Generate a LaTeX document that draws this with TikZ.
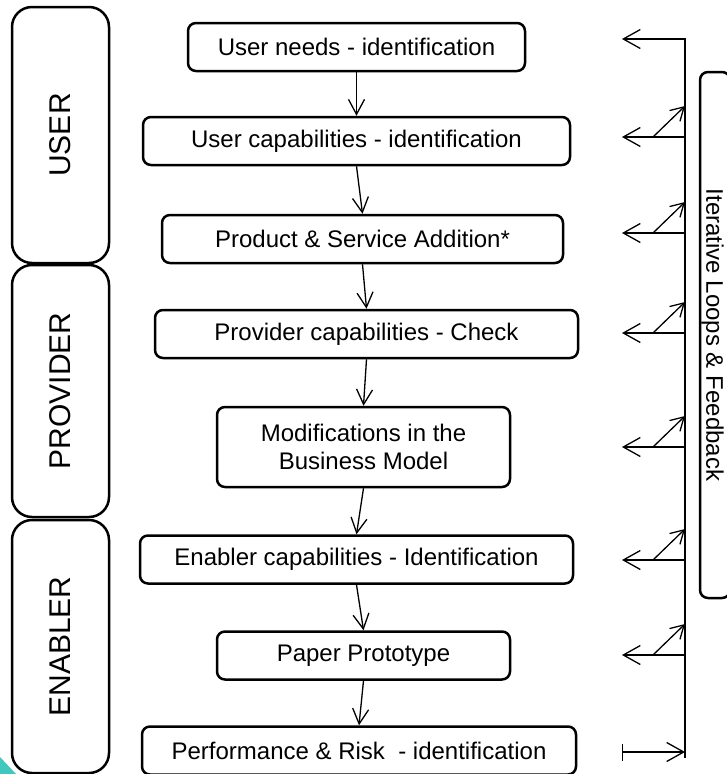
\documentclass[tikz,border=0pt]{standalone}
\usepackage{fontspec}
\setmainfont{Liberation Sans}
\usetikzlibrary{arrows.meta,positioning}
\definecolor{cornerteal}{RGB}{64,200,190}

\begin{document}
\begin{tikzpicture}[x=1pt, y=-1pt,
  stepbox/.style={draw, line width=2.5pt, rounded corners=8pt, inner sep=0pt, align=center, minimum height=48pt, font=\fontsize{24}{28}\selectfont},
  rolebox/.style={draw, line width=2.5pt, rounded corners=20pt, inner sep=0pt, rotate=90, minimum height=97pt, font=\fontsize{30}{36}\selectfont},
  flow/.style={line width=1.3pt, -{Straight Barb[length=15pt,width=16pt]}},
  fb/.style={line width=1.3pt, -{Straight Barb[length=17pt,width=19pt]}},
  diag/.style={line width=1.3pt, -{Straight Barb[length=13pt,width=15pt]}}]
\useasboundingbox (0,0) rectangle (726,774);

\node[rolebox, minimum width=256pt] (user) at (60.5,135) {USER};
\node[rolebox, minimum width=252pt] (provider) at (60.5,391) {PROVIDER};
\node[rolebox, minimum width=253pt] (enabler) at (60.5,646.5) {ENABLER};

\node[stepbox, minimum width=337pt] (step1) at (356.5,47) {User needs - identification};
\node[stepbox, minimum width=427pt] (step2) at (356.5,141) {User capabilities - identification};
\node[stepbox, minimum width=401pt] (step3) at (362.5,239) {Product \& Service Addition*};
\node[stepbox, minimum width=423pt] (step4) at (366.5,334) {Provider capabilities - Check};
\node[stepbox, minimum width=293pt, minimum height=80pt] (step5) at (363.5,447) {Modifications in the\\Business Model};
\node[stepbox, minimum width=433pt] (step6) at (356.5,559.5) {Enabler capabilities - Identification};
\node[stepbox, minimum width=293pt] (step7) at (363.5,655.5) {Paper Prototype};
\node[stepbox, minimum width=434pt] (step8) at (359,750.5) {Performance \& Risk\ \ - identification};

\foreach \a/\b in {1/2,2/3,3/4,4/5,5/6,6/7,7/8}
  \draw[flow] (step\a.south) -- (step\b.north);

% feedback side
\node[draw, line width=2.5pt, rounded corners=8pt, minimum width=30pt, minimum height=526pt] (loop) at (715,335) {};
\node[rotate=-90, inner sep=0pt, font=\fontsize{24}{28}\selectfont] (looptext) at (712.5,335) {Iterative Loops \& Feedback};

\coordinate (spinetop) at (685,39);
\coordinate (spinebot) at (685,758);
\coordinate (fb1) at (622,39);
\draw[fb] (spinebot) -- (spinetop) -- (fb1);
\foreach \n/\y in {2/137,3/233,4/333,5/447,6/560,7/655} {
  \coordinate (sp\n) at (685,\y);
  \coordinate (fb\n) at (622,\y);
  \coordinate (ds\n) at (653,\y);
  \coordinate (de\n) at (685,\y-31);
  \draw[fb] (sp\n) -- (fb\n);
  \draw[diag] (ds\n) -- (de\n);
}
\coordinate (fb8) at (622,752);
\coordinate (sp8) at (685,752);
\draw[line width=1.3pt, {Bar[width=17pt]}-{Straight Barb[length=17pt,width=19pt]}] (fb8) -- (sp8);

\fill[cornerteal] (0,757) -- (16,774) -- (0,774) -- cycle;
\end{tikzpicture}
\end{document}
